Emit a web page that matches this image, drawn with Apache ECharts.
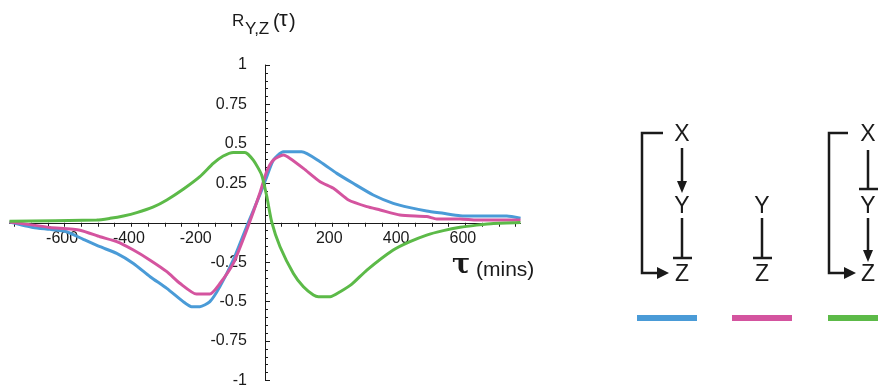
<!DOCTYPE html>
<html lang="en">
<head>
<meta charset="UTF-8">
<script src="https://cdn.jsdelivr.net/npm/echarts@6/dist/echarts.min.js"></script>
<title>Cross-correlation R_Y,Z(tau)</title>
<style>
    html, body { margin: 0; padding: 0; background: #fff; }
    #chart { width: 878px; height: 387px; }
</style>
</head>
<body>
<div id="chart"></div>
<script>
// lag values (mins) and correlation, one pair of arrays per curve
const blueTau = [-765, -694, -644, -594, -544, -494, -444, -394, -344, -294, -245, -220, -195, -165, -135, -95, -55, -15, 5, 25, 55, 110, 165, 215, 264, 324, 384, 434, 484, 534, 584, 634, 724, 765];
const blueR   = [0.005, -0.03, -0.042, -0.057, -0.105, -0.152, -0.194, -0.258, -0.342, -0.416, -0.5, -0.532, -0.532, -0.5, -0.405, -0.236, -0.025, 0.18, 0.29, 0.397, 0.45, 0.45, 0.387, 0.313, 0.25, 0.176, 0.123, 0.096, 0.075, 0.06, 0.045, 0.043, 0.043, 0.028];

const pinkTau = [-765, -694, -644, -554, -494, -444, -394, -344, -294, -254, -205, -165, -135, -95, -55, -15, 5, 25, 55, 75, 115, 165, 205, 250, 305, 345, 404, 484, 514, 584, 634, 765];
const pinkR   = [0.005, -0.015, -0.03, -0.047, -0.089, -0.12, -0.173, -0.237, -0.31, -0.385, -0.452, -0.452, -0.385, -0.258, -0.047, 0.19, 0.324, 0.397, 0.429, 0.408, 0.345, 0.26, 0.218, 0.144, 0.102, 0.081, 0.049, 0.039, 0.024, 0.024, 0.017, 0.017];

const greenTau = [-765, -504, -464, -424, -384, -334, -294, -245, -195, -155, -125, -95, -60, -35, -10, 5, 20, 45, 85, 115, 145, 160, 195, 225, 260, 305, 384, 434, 484, 534, 584, 634, 684, 765];
const greenR   = [0.01, 0.017, 0.028, 0.043, 0.064, 0.1, 0.144, 0.212, 0.292, 0.376, 0.423, 0.446, 0.446, 0.397, 0.303, 0.17, 0.006, -0.152, -0.321, -0.406, -0.458, -0.469, -0.469, -0.437, -0.389, -0.3, -0.173, -0.12, -0.078, -0.05, -0.029, -0.015, -0.004, 0.002];

const xLabelValues = [-600, -400, -200, 200, 400, 600];
const xTickValues = [-750, -700, -650, -600, -550, -500, -450, -400, -350, -300, -250, -200, -150, -100, -50, 0, 50, 100, 150, 200, 250, 300, 350, 400, 450, 500, 550, 600, 650, 700, 750];

const BLUE = '#4a9bd7';
const PINK = '#d4549f';
const GREEN = '#5cba48';
const INK = '#1a1a1a';
const FONT = '"Liberation Sans", Arial, sans-serif';

// plot box, axes cross at (0, 0) in the middle of it
const G_LEFT = 9.5, G_RIGHT = 357.5, G_TOP = 65, G_BOTTOM = 6.5;
const G_W = 878 - G_LEFT - G_RIGHT;
const G_H = 387 - G_TOP - G_BOTTOM;

function pairs(xs, ys) {
    return xs.map((x, i) => [x, ys[i]]);
}

// small helpers for the motif diagrams on the right
function txt(s, x, y, size, family) {
    return {
        type: 'text',
        style: {
            text: s, x: x, y: y, fill: INK,
            font: size + 'px ' + (family || FONT),
            align: 'center', verticalAlign: 'middle'
        }
    };
}
function seg(x1, y1, x2, y2) {
    return { type: 'line', shape: { x1: x1, y1: y1, x2: x2, y2: y2 }, style: { stroke: INK, lineWidth: 2.5 } };
}
function poly(points) {
    return { type: 'polyline', shape: { points: points }, style: { stroke: INK, lineWidth: 2.5, fill: null } };
}
function head(points) {
    return { type: 'polygon', shape: { points: points }, style: { fill: INK } };
}

const chart = echarts.init(document.getElementById('chart'));

const option = {
    animation: false,
    grid: { left: G_LEFT, right: G_RIGHT, top: G_TOP, bottom: G_BOTTOM, containLabel: false, outerBoundsMode: 'none' },
    xAxis: {
        type: 'value',
        min: -765,
        max: 765,
        position: 'bottom',
        offset: -G_H / 2,
        axisLine: { onZero: false, lineStyle: { color: INK, width: 1 } },
        axisTick: { show: true, length: 4, customValues: xTickValues, lineStyle: { color: INK } },
        axisLabel: {
            customValues: xLabelValues,
            margin: 8,
            color: INK,
            fontSize: 16,
            fontFamily: FONT,
            padding: [0, 5, 0, 0]
        },
        splitLine: { show: false }
    },
    yAxis: {
        type: 'value',
        min: -1,
        max: 1,
        interval: 0.25,
        position: 'left',
        offset: -G_W / 2,
        axisLine: { show: true, onZero: false, lineStyle: { color: INK, width: 1 } },
        axisTick: { show: true, inside: true, length: 5, lineStyle: { color: INK } },
        minorTick: { show: true, splitNumber: 5, length: 3, lineStyle: { color: INK } },
        axisLabel: {
            margin: 18,
            color: INK,
            fontSize: 16,
            fontFamily: FONT,
            formatter: v => (v === 0 ? '' : String(v))
        },
        splitLine: { show: false }
    },
    series: [
        { type: 'line', data: pairs(blueTau, blueR), showSymbol: false, smooth: 0.2, lineStyle: { color: BLUE, width: 3 }, z: 2 },
        { type: 'line', data: pairs(pinkTau, pinkR), showSymbol: false, smooth: 0.2, lineStyle: { color: PINK, width: 3 }, z: 3 },
        { type: 'line', data: pairs(greenTau, greenR), showSymbol: false, smooth: 0.2, lineStyle: { color: GREEN, width: 3 }, z: 4 }
    ],
    graphic: [
        // y axis title R_{Y,Z}(tau)
        { type: 'text', style: { text: 'R', x: 232, y: 21, fill: INK, font: '17px ' + FONT, verticalAlign: 'middle' } },
        { type: 'text', style: { text: 'Y,Z', x: 245, y: 29, fill: INK, font: '17px ' + FONT, verticalAlign: 'middle' } },
        { type: 'text', style: { text: '(', x: 273, y: 22, fill: INK, font: '20px ' + FONT, verticalAlign: 'middle' } },
        { type: 'text', style: { text: 'τ', x: 279, y: 20, fill: INK, font: '22px ' + FONT, verticalAlign: 'middle' } },
        { type: 'text', style: { text: ')', x: 289, y: 22, fill: INK, font: '20px ' + FONT, verticalAlign: 'middle' } },

        // x axis title
        { type: 'text', style: { text: 'τ', x: 452, y: 266, fill: INK, font: 'bold 27px "DejaVu Serif", serif', verticalAlign: 'middle' } },
        { type: 'text', style: { text: '(mins)', x: 476, y: 270, fill: INK, font: '21px ' + FONT, verticalAlign: 'middle' } },

        // motif 1: X -> Y -| Z, X -> Z
        txt('X', 682, 135, 23),
        seg(682, 148, 682, 184),
        head([[682, 193], [677, 181], [687, 181]]),
        txt('Y', 682, 207, 23),
        seg(682, 218, 682, 258),
        seg(673, 258, 692, 258),
        txt('Z', 682, 275, 23),
        poly([[663, 133], [642, 133], [642, 273], [659, 273]]),
        head([[669, 273], [657, 267], [657, 279]]),

        // motif 2: Y -| Z
        txt('Y', 762, 207, 23),
        seg(762, 218, 762, 258),
        seg(753, 258, 772, 258),
        txt('Z', 762, 275, 23),

        // motif 3: X -| Y -> Z, X -> Z
        txt('X', 868, 135, 23),
        seg(868, 150, 868, 189),
        seg(859, 189, 878, 189),
        txt('Y', 868, 207, 23),
        seg(868, 218, 868, 252),
        head([[868, 262], [863, 250], [873, 250]]),
        txt('Z', 868, 275, 23),
        poly([[848, 133], [829, 133], [829, 273], [846, 273]]),
        head([[856, 273], [844, 267], [844, 279]]),

        // colour keys under the motifs
        { type: 'rect', shape: { x: 637, y: 315, width: 60, height: 6 }, style: { fill: BLUE } },
        { type: 'rect', shape: { x: 732, y: 315, width: 60, height: 6 }, style: { fill: PINK } },
        { type: 'rect', shape: { x: 828, y: 315, width: 60, height: 6 }, style: { fill: GREEN } }
    ]
};

chart.setOption(option);
</script>
</body>
</html>
